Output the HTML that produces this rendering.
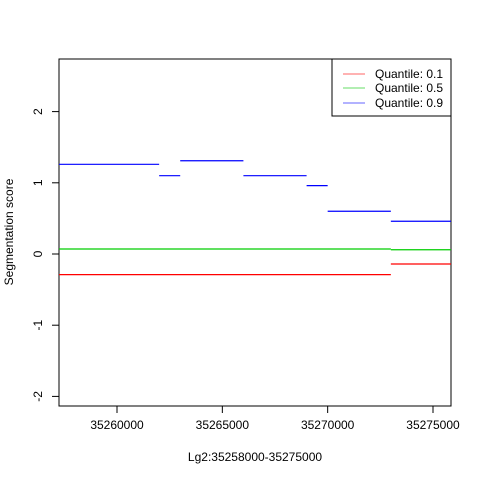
<!DOCTYPE html>
<html><head><meta charset="utf-8"><style>body{margin:0;background:#fff}svg{display:block;font-family:"Liberation Sans",sans-serif}</style></head>
<body>
<svg id="chart" width="480" height="480" xmlns="http://www.w3.org/2000/svg">
<rect x="59" y="59" width="392" height="347" fill="none" stroke="#000"/>
<g id="axes"></g>
<g id="series"></g>
<text x="255" y="461" font-size="12" text-anchor="middle">Lg2:35258000-35275000</text>
<text transform="translate(13,232) rotate(-90)" font-size="12" text-anchor="middle">Segmentation score</text>
<g>
<rect x="332" y="59" width="119" height="57" fill="#fff" stroke="#000"/>
<g><line x1="343" x2="365" y1="74" y2="74" stroke="#ff6666"/><text x="375" y="78" font-size="12">Quantile: 0.1</text></g>
<g><line x1="343" x2="365" y1="88" y2="88" stroke="#66dd66"/><text x="375" y="92" font-size="12">Quantile: 0.5</text></g>
<g><line x1="343" x2="365" y1="103" y2="103" stroke="#6666ff"/><text x="375" y="107" font-size="12">Quantile: 0.9</text></g>
</g>
</svg>
<script>
const xTicks=[35260000,35265000,35270000,35275000];
const yTicks=[-2,-1,0,1,2];
const q01Starts=[35257246,35273000];
const q01Ends=[35273000,35275855];
const q01Values=[-0.29,-0.14];
const q05Starts=[35257246,35273000];
const q05Ends=[35273000,35275855];
const q05Values=[0.07,0.06];
const q09Starts=[35257246,35262000,35263000,35266000,35269000,35270000,35273000];
const q09Ends=[35262000,35263000,35266000,35269000,35270000,35273000,35275855];
const q09Values=[1.26,1.10,1.31,1.10,0.96,0.60,0.46];
const NS='http://www.w3.org/2000/svg';
const xs=v=>59+(v-35257246)*392/(35275855-35257246);
const ys=v=>254-v*71.2;
const ax=document.getElementById('axes'),se=document.getElementById('series');
function mk(p,t,a){const e=document.createElementNS(NS,t);for(const k in a)e.setAttribute(k,a[k]);p.appendChild(e);return e;}
xTicks.forEach(t=>{const x=xs(t);
const l=mk(ax,'line',{x1:x,x2:x,y1:406,y2:413,stroke:'#000'});


const tx=mk(ax,'text',{x:x,y:429,'font-size':12,'text-anchor':'middle'});tx.textContent=t;

});
yTicks.forEach(t=>{const y=ys(t);
const l=mk(ax,'line',{x1:52,x2:59,y1:y,y2:y,stroke:'#000'});


const tx=mk(ax,'text',{transform:`translate(42,${y}) rotate(-90)`,'font-size':12,'text-anchor':'middle'});tx.textContent=t;

});
function draw(s,e,v,c,n){s.forEach((st,i)=>{const l=mk(se,'line',{x1:xs(st),x2:xs(e[i]),y1:ys(v[i]),y2:ys(v[i]),stroke:c,'stroke-width':1.2});

});}
draw(q01Starts,q01Ends,q01Values,'#ff0000','segment-q01');
draw(q05Starts,q05Ends,q05Values,'#00cd00','segment-q05');
draw(q09Starts,q09Ends,q09Values,'#0000ff','segment-q09');
</script>
</body></html>
